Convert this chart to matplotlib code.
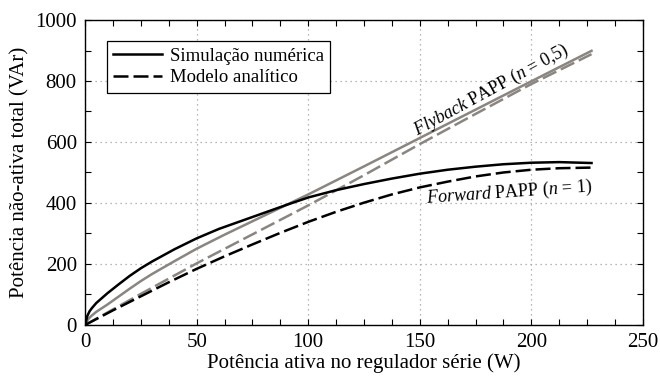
import numpy as np
import matplotlib
matplotlib.use("Agg")
import matplotlib.pyplot as plt
from matplotlib.ticker import MultipleLocator

plt.rcParams["font.family"] = ["Liberation Serif", "DejaVu Serif"]
plt.rcParams["mathtext.fontset"] = "custom"
plt.rcParams["mathtext.rm"] = "Liberation Serif"
plt.rcParams["mathtext.it"] = "Liberation Serif:italic"

# potência ativa (W) e potência não-ativa (VAr)
p_sim_fwd = [0, 1, 2, 3, 5, 7.5, 10, 15, 20, 25, 30, 40, 50, 60, 75, 90, 100,
             112.5, 125, 137.5, 150, 162.5, 175, 187.5, 200, 212.5, 227]
q_sim_fwd = [0, 30, 45, 55, 72, 88, 104, 133, 161, 186, 208, 248, 284, 315, 354, 393, 418,
             442, 462, 480, 496, 509, 519, 527, 532, 534, 531]

p_mod_fwd = [0, 12.5, 25, 37.5, 50, 62.5, 75, 87.5, 100, 112.5, 125, 137.5, 150,
             162.5, 175, 187.5, 200, 212.5, 227]
q_mod_fwd = [0, 48, 94, 140, 184, 225, 264, 302, 338, 371, 401, 428, 451,
             470, 487, 500, 509, 514, 516]

p_sim_fly = [0, 1, 2, 3, 5, 7.5, 10, 15, 20, 25, 30, 40, 50, 62.5, 75, 87.5, 100,
             125, 150, 175, 200, 227]
q_sim_fly = [0, 15, 24, 31, 43, 55, 67, 93, 119, 144, 167, 209, 250, 296, 340, 384, 428,
             520, 613, 706, 799, 899]

p_mod_fly = [0, 25, 50, 75, 100, 125, 150, 175, 200, 227]
q_mod_fly = [0, 102, 202, 297, 392, 491, 593, 692, 790, 888]

gray = "#8a8580"
dash = (0, (6, 2))

fig = plt.figure(figsize=(6.6, 3.85), dpi=100)
ax = fig.add_axes([0.129, 0.156, 0.845, 0.792])

ax.plot(p_sim_fly, q_sim_fly, color=gray, lw=1.8)
ax.plot(p_mod_fly, q_mod_fly, color=gray, lw=1.8, linestyle=dash)
ax.plot(p_sim_fwd, q_sim_fwd, color="black", lw=1.8, label="Simulação numérica")
ax.plot(p_mod_fwd, q_mod_fwd, color="black", lw=1.8, linestyle=dash, label="Modelo analítico")

ax.set_xlim(0, 250)
ax.set_ylim(0, 1000)
ax.xaxis.set_major_locator(MultipleLocator(50))
ax.xaxis.set_minor_locator(MultipleLocator(12.5))
ax.yaxis.set_major_locator(MultipleLocator(200))
ax.yaxis.set_minor_locator(MultipleLocator(100))
ax.tick_params(which="both", direction="in", top=True, right=True, length=4, width=0.8)
ax.tick_params(labelsize=15, pad=6)
ax.grid(True, which="major", linestyle=(0, (1, 3)), color="#a0a0a0", lw=0.9)
for s in ax.spines.values():
    s.set_linewidth(1)

ax.set_xlabel("Potência ativa no regulador série (W)", fontsize=15, labelpad=1)
ax.set_ylabel("Potência não-ativa total (VAr)", fontsize=15, labelpad=4)

leg = ax.legend(loc="upper left", bbox_to_anchor=(0.022, 0.962), fontsize=13.5,
                fancybox=False, edgecolor="black", framealpha=1,
                handlelength=2.6, handletextpad=0.4, borderpad=0.35, labelspacing=0.25)
leg.get_frame().set_linewidth(0.9)

ax.text(182, 770, r"$\mathit{Flyback}$ PAPP ($n$ = 0,5)", fontsize=13,
        rotation=28.5, ha="center", va="center")
ax.text(190, 433, r"$\mathit{Forward}$ PAPP ($n$ = 1)", fontsize=13,
        rotation=4, ha="center", va="center")

fig.savefig("out.png", dpi=100)
